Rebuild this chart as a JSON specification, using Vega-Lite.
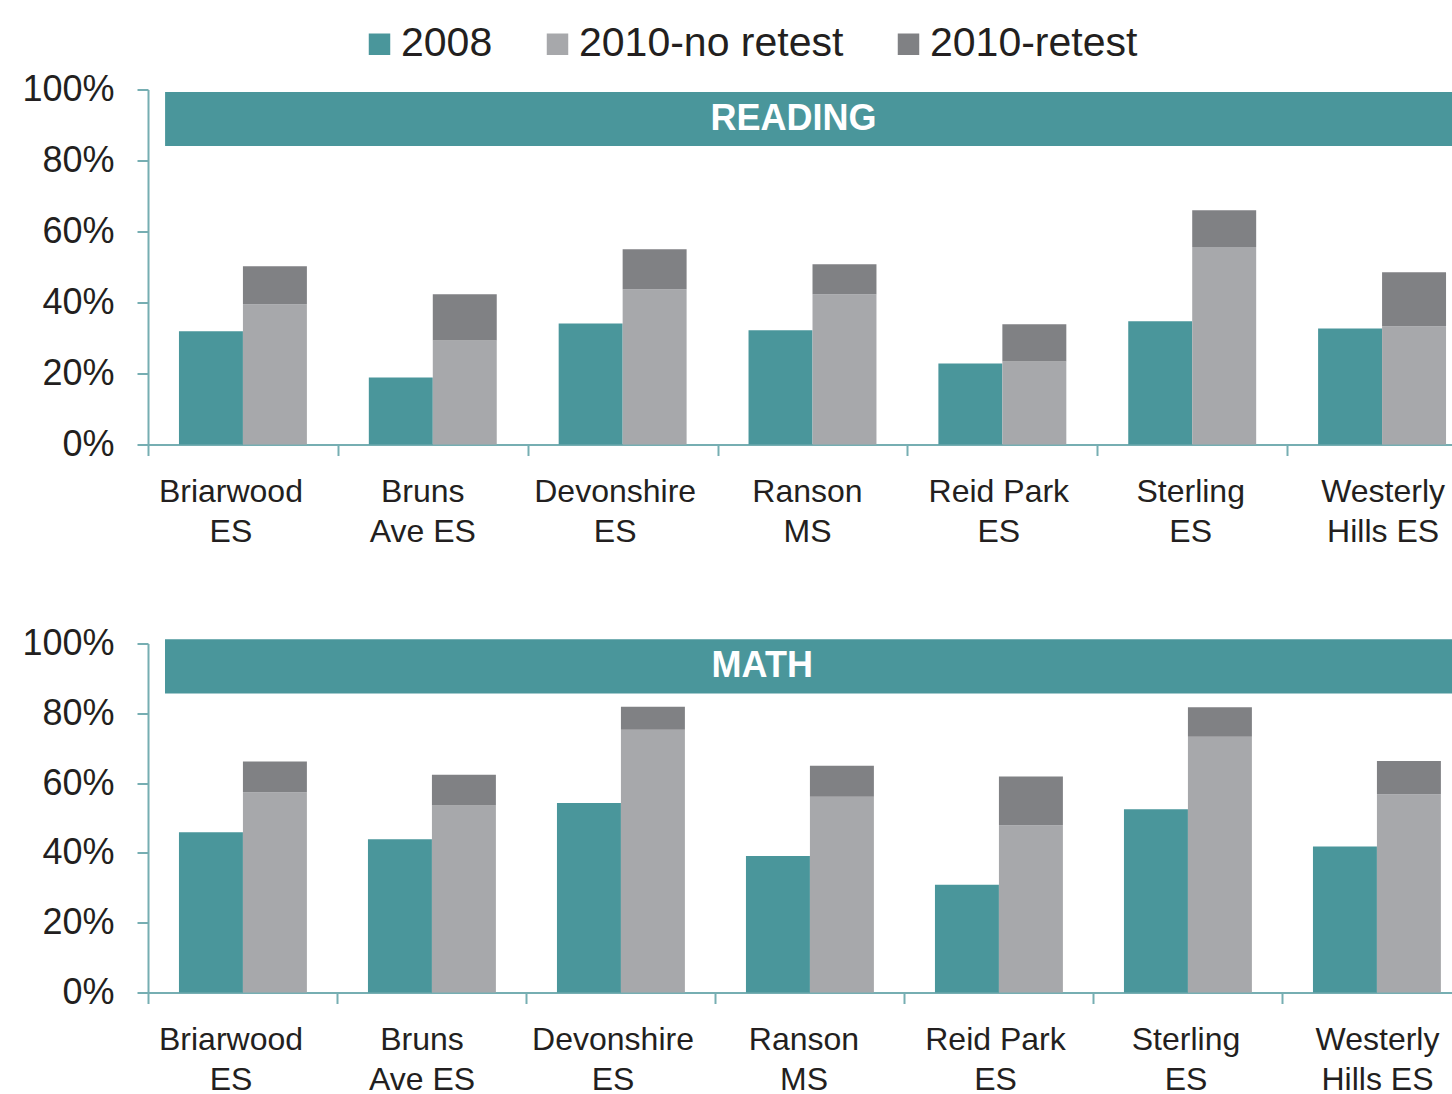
{
  "$schema": "https://vega.github.io/schema/vega-lite/v6.json",
  "padding": {"left": 21, "top": 23.5, "right": 0, "bottom": 0},
  "background": "white",
  "config": {
    "view": {"stroke": null},
    "font": "Liberation Sans",
    "axis": {
      "domainColor": "#76aeb2", "tickColor": "#76aeb2", "domainWidth": 2, "tickWidth": 2,
      "labelColor": "#231f20", "labelFont": "Liberation Sans", "grid": false, "title": null
    }
  },
  "datasets": {
    "scores": [
      {"subject": "Reading", "school": "Briarwood|ES", "year": "2008", "series": "2008", "lo": 0, "hi": 31.9},
      {"subject": "Reading", "school": "Briarwood|ES", "year": "2010", "series": "2010-no retest", "lo": 0, "hi": 39.5},
      {"subject": "Reading", "school": "Briarwood|ES", "year": "2010", "series": "2010-retest", "lo": 39.5, "hi": 50.2},
      {"subject": "Reading", "school": "Bruns|Ave ES", "year": "2008", "series": "2008", "lo": 0, "hi": 18.9},
      {"subject": "Reading", "school": "Bruns|Ave ES", "year": "2010", "series": "2010-no retest", "lo": 0, "hi": 29.3},
      {"subject": "Reading", "school": "Bruns|Ave ES", "year": "2010", "series": "2010-retest", "lo": 29.3, "hi": 42.3},
      {"subject": "Reading", "school": "Devonshire|ES", "year": "2008", "series": "2008", "lo": 0, "hi": 34.1},
      {"subject": "Reading", "school": "Devonshire|ES", "year": "2010", "series": "2010-no retest", "lo": 0, "hi": 43.7},
      {"subject": "Reading", "school": "Devonshire|ES", "year": "2010", "series": "2010-retest", "lo": 43.7, "hi": 55.0},
      {"subject": "Reading", "school": "Ranson|MS", "year": "2008", "series": "2008", "lo": 0, "hi": 32.2},
      {"subject": "Reading", "school": "Ranson|MS", "year": "2010", "series": "2010-no retest", "lo": 0, "hi": 42.3},
      {"subject": "Reading", "school": "Ranson|MS", "year": "2010", "series": "2010-retest", "lo": 42.3, "hi": 50.8},
      {"subject": "Reading", "school": "Reid Park|ES", "year": "2008", "series": "2008", "lo": 0, "hi": 22.8},
      {"subject": "Reading", "school": "Reid Park|ES", "year": "2010", "series": "2010-no retest", "lo": 0, "hi": 23.4},
      {"subject": "Reading", "school": "Reid Park|ES", "year": "2010", "series": "2010-retest", "lo": 23.4, "hi": 33.9},
      {"subject": "Reading", "school": "Sterling|ES", "year": "2008", "series": "2008", "lo": 0, "hi": 34.7},
      {"subject": "Reading", "school": "Sterling|ES", "year": "2010", "series": "2010-no retest", "lo": 0, "hi": 55.6},
      {"subject": "Reading", "school": "Sterling|ES", "year": "2010", "series": "2010-retest", "lo": 55.6, "hi": 66.0},
      {"subject": "Reading", "school": "Westerly|Hills ES", "year": "2008", "series": "2008", "lo": 0, "hi": 32.7},
      {"subject": "Reading", "school": "Westerly|Hills ES", "year": "2010", "series": "2010-no retest", "lo": 0, "hi": 33.3},
      {"subject": "Reading", "school": "Westerly|Hills ES", "year": "2010", "series": "2010-retest", "lo": 33.3, "hi": 48.5},
      {"subject": "Math", "school": "Briarwood|ES", "year": "2008", "series": "2008", "lo": 0, "hi": 45.9},
      {"subject": "Math", "school": "Briarwood|ES", "year": "2010", "series": "2010-no retest", "lo": 0, "hi": 57.4},
      {"subject": "Math", "school": "Briarwood|ES", "year": "2010", "series": "2010-retest", "lo": 57.4, "hi": 66.2},
      {"subject": "Math", "school": "Bruns|Ave ES", "year": "2008", "series": "2008", "lo": 0, "hi": 43.9},
      {"subject": "Math", "school": "Bruns|Ave ES", "year": "2010", "series": "2010-no retest", "lo": 0, "hi": 53.6},
      {"subject": "Math", "school": "Bruns|Ave ES", "year": "2010", "series": "2010-retest", "lo": 53.6, "hi": 62.4},
      {"subject": "Math", "school": "Devonshire|ES", "year": "2008", "series": "2008", "lo": 0, "hi": 54.3},
      {"subject": "Math", "school": "Devonshire|ES", "year": "2010", "series": "2010-no retest", "lo": 0, "hi": 75.3},
      {"subject": "Math", "school": "Devonshire|ES", "year": "2010", "series": "2010-retest", "lo": 75.3, "hi": 81.9},
      {"subject": "Math", "school": "Ranson|MS", "year": "2008", "series": "2008", "lo": 0, "hi": 39.1},
      {"subject": "Math", "school": "Ranson|MS", "year": "2010", "series": "2010-no retest", "lo": 0, "hi": 56.1},
      {"subject": "Math", "school": "Ranson|MS", "year": "2010", "series": "2010-retest", "lo": 56.1, "hi": 65.0},
      {"subject": "Math", "school": "Reid Park|ES", "year": "2008", "series": "2008", "lo": 0, "hi": 30.9},
      {"subject": "Math", "school": "Reid Park|ES", "year": "2010", "series": "2010-no retest", "lo": 0, "hi": 47.9},
      {"subject": "Math", "school": "Reid Park|ES", "year": "2010", "series": "2010-retest", "lo": 47.9, "hi": 61.9},
      {"subject": "Math", "school": "Sterling|ES", "year": "2008", "series": "2008", "lo": 0, "hi": 52.5},
      {"subject": "Math", "school": "Sterling|ES", "year": "2010", "series": "2010-no retest", "lo": 0, "hi": 73.3},
      {"subject": "Math", "school": "Sterling|ES", "year": "2010", "series": "2010-retest", "lo": 73.3, "hi": 81.7},
      {"subject": "Math", "school": "Westerly|Hills ES", "year": "2008", "series": "2008", "lo": 0, "hi": 41.8},
      {"subject": "Math", "school": "Westerly|Hills ES", "year": "2010", "series": "2010-no retest", "lo": 0, "hi": 56.8},
      {"subject": "Math", "school": "Westerly|Hills ES", "year": "2010", "series": "2010-retest", "lo": 56.8, "hi": 66.3}
    ]
  },
  "bounds": "flush",
  "spacing": 199,
  "vconcat": [
    {
      "width": 1329,
      "height": 355,
      "layer": [
        {
          "data": {"name": "scores"},
          "transform": [{"filter": "datum.subject === 'Reading'"}],
          "mark": {"type": "bar"},
          "encoding": {
            "x": {
              "field": "school", "type": "nominal", "sort": null,
              "scale": {"paddingInner": 0, "paddingOuter": 0},
              "axis": {
                "labelAngle": 0, "labelExpr": "split(datum.label, '|')", "labelFontSize": 32,
                "labelLineHeight": 40, "labelPadding": 21, "tickSize": 11, "tickBand": "extent",
                "labelLimit": 400, "labelOverlap": false,
                "labelOffset": {"condition": [
                  {"test": "datum.value === 'Briarwood|ES'", "value": -12.5},
                  {"test": "datum.value === 'Bruns|Ave ES'", "value": -10.5},
                  {"test": "datum.value === 'Devonshire|ES'", "value": -8},
                  {"test": "datum.value === 'Ranson|MS'", "value": -5.5},
                  {"test": "datum.value === 'Reid Park|ES'", "value": -4},
                  {"test": "datum.value === 'Sterling|ES'", "value": -2}
                ], "value": 0.5}
              }
            },
            "xOffset": {"field": "year", "type": "nominal", "scale": {"paddingInner": 0, "paddingOuter": 0.484}},
            "y": {
              "field": "lo", "type": "quantitative",
              "scale": {"domain": [0, 100], "nice": false},
              "axis": {"values": [0, 20, 40, 60, 80, 100], "labelExpr": "datum.value + '%'", "labelFontSize": 36, "tickSize": 11, "labelPadding": 23}
            },
            "y2": {"field": "hi"},
            "color": {
              "field": "series", "type": "nominal",
              "scale": {"domain": ["2008", "2010-no retest", "2010-retest"], "range": ["#4a969b", "#a7a8ab", "#808184"]},
              "legend": {
                "orient": "none", "legendX": 211, "legendY": -66, "direction": "horizontal", "title": null,
                "symbolType": "square", "symbolSize": 462, "symbolStrokeWidth": 0, "symbolOpacity": 1,
                "labelFontSize": 41, "labelFont": "Liberation Sans", "labelColor": "#231f20",
                "labelOffset": 1, "columnPadding": 44, "labelLimit": 400
              }
            }
          }
        },
        {
          "data": {"values": [{"label": "READING"}]},
          "mark": {"type": "rect", "color": "#4a969b"},
          "encoding": {
            "x": {"datum": 0.09, "type": "quantitative", "scale": {"domain": [0, 7], "nice": false, "zero": false}, "axis": null},
            "x2": {"datum": 7},
            "y": {"datum": 99.3, "type": "quantitative"},
            "y2": {"datum": 84.1}
          }
        },
        {
          "data": {"values": [{"label": "READING"}]},
          "mark": {"type": "text", "color": "white", "fontSize": 36, "fontWeight": "bold", "font": "Liberation Sans", "align": "center", "baseline": "middle"},
          "encoding": {
            "x": {"datum": 3.4, "type": "quantitative", "scale": {"domain": [0, 7], "nice": false, "zero": false}, "axis": null},
            "y": {"datum": 91.7, "type": "quantitative"},
            "text": {"field": "label"}
          }
        }
      ],
      "resolve": {"scale": {"x": "independent"}}
    },
    {
      "width": 1323,
      "height": 349,
      "layer": [
        {
          "data": {"name": "scores"},
          "transform": [{"filter": "datum.subject === 'Math'"}],
          "mark": {"type": "bar"},
          "encoding": {
            "x": {
              "field": "school", "type": "nominal", "sort": null,
              "scale": {"paddingInner": 0, "paddingOuter": 0},
              "axis": {
                "labelAngle": 0, "labelExpr": "split(datum.label, '|')", "labelFontSize": 32,
                "labelLineHeight": 40, "labelPadding": 21, "tickSize": 11, "tickBand": "extent",
                "labelLimit": 400, "labelOverlap": false,
                "labelOffset": {"condition": [
                  {"test": "datum.value === 'Briarwood|ES'", "value": -12},
                  {"test": "datum.value === 'Bruns|Ave ES'", "value": -10},
                  {"test": "datum.value === 'Devonshire|ES'", "value": -8},
                  {"test": "datum.value === 'Ranson|MS'", "value": -6},
                  {"test": "datum.value === 'Reid Park|ES'", "value": -3.5},
                  {"test": "datum.value === 'Sterling|ES'", "value": -2}
                ], "value": 0.5}
              }
            },
            "xOffset": {"field": "year", "type": "nominal", "scale": {"paddingInner": 0, "paddingOuter": 0.5}},
            "y": {
              "field": "lo", "type": "quantitative",
              "scale": {"domain": [0, 100], "nice": false},
              "axis": {"values": [0, 20, 40, 60, 80, 100], "labelExpr": "datum.value + '%'", "labelFontSize": 36, "tickSize": 11, "labelPadding": 23}
            },
            "y2": {"field": "hi"},
            "color": {
              "field": "series", "type": "nominal",
              "scale": {"domain": ["2008", "2010-no retest", "2010-retest"], "range": ["#4a969b", "#a7a8ab", "#808184"]},
              "legend": null
            }
          }
        },
        {
          "data": {"values": [{"label": "MATH"}]},
          "mark": {"type": "rect", "color": "#4a969b"},
          "encoding": {
            "x": {"datum": 0.09, "type": "quantitative", "scale": {"domain": [0, 7], "nice": false, "zero": false}, "axis": null},
            "x2": {"datum": 7},
            "y": {"datum": 101.2, "type": "quantitative"},
            "y2": {"datum": 85.7}
          }
        },
        {
          "data": {"values": [{"label": "MATH"}]},
          "mark": {"type": "text", "color": "white", "fontSize": 36, "fontWeight": "bold", "font": "Liberation Sans", "align": "center", "baseline": "middle"},
          "encoding": {
            "x": {"datum": 3.25, "type": "quantitative", "scale": {"domain": [0, 7], "nice": false, "zero": false}, "axis": null},
            "y": {"datum": 93.45, "type": "quantitative"},
            "text": {"field": "label"}
          }
        }
      ],
      "resolve": {"scale": {"x": "independent"}}
    }
  ]
}
